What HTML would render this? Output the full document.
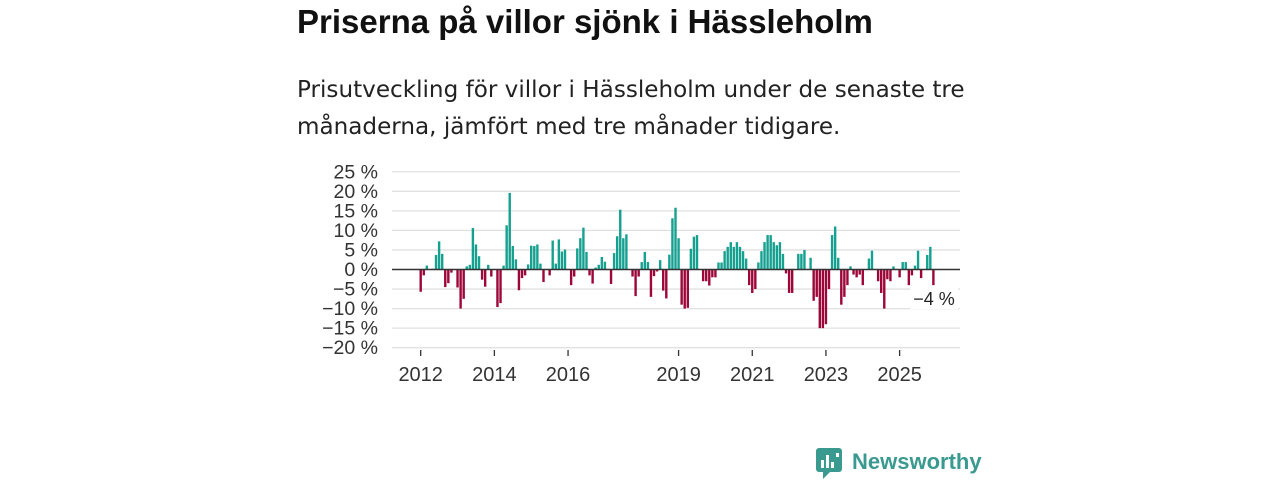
<!DOCTYPE html>
<html><head><meta charset="utf-8"><style>
body{margin:0;width:1280px;height:480px;background:#fff;font-family:"Liberation Sans",sans-serif;overflow:hidden;position:relative}
#title{position:absolute;left:297px;top:3px;font-size:33px;font-weight:bold;color:#111}
#sub{position:absolute;left:297px;top:72px;font-family:"DejaVu Sans",sans-serif;font-size:23.1px;line-height:37px;color:#222;width:720px}
#logo{position:absolute;left:815px;top:446px}
</style></head><body>
<div id="title">Priserna på villor sjönk i Hässleholm</div>
<div id="sub">Prisutveckling för villor i Hässleholm under de senaste tre<br>månaderna, jämfört med tre månader tidigare.</div>
<svg id="chart" width="1280" height="480" style="position:absolute;left:0;top:0"></svg>
<svg id="logo" width="180" height="34">
<rect x="1" y="2" width="26" height="24" rx="3" fill="#3a9a8f"/><path d="M8 26 L8 33 L15 26Z" fill="#3a9a8f"/>
<rect x="6" y="14" width="3" height="8" fill="#fff"/><rect x="11" y="9" width="3" height="13" fill="#fff"/><rect x="16" y="16" width="3" height="6" fill="#fff"/><rect x="21" y="7" width="3" height="4" fill="#fff"/>
<text x="37" y="23" font-size="22" font-weight="bold" fill="#3a9a8f" font-family="Liberation Sans, sans-serif">Newsworthy</text>
</svg>
<script>
const values=[-5.7,-1.5,1,0,0.2,3.7,7.2,4,-4.5,-3.5,-0.8,0,-4.6,-10,-7.5,0.8,1.2,10.6,6.4,3.4,-2.6,-4.4,1.2,-1.8,0,-9.6,-8.6,1,11.3,19.6,6,2.6,-5.3,-2.2,-1.5,1.3,6.1,6,6.4,1.5,-3.2,0,-1.5,7.4,1.5,7.7,4.6,5.1,0,-4,-1.8,5.4,8,10.7,4.5,-1.5,-3.6,0.5,1.2,3.2,2,0,-3.7,4.2,8.5,15.3,8,9,0,-1.8,-6.8,-1.8,1.9,4.5,1.9,-7,-1.7,-0.5,2.4,-5.4,-7.4,3.8,13.1,15.8,8,-9,-10,-9.8,5.3,8.4,8.8,0,-3,-3,-4.1,-2,-2,1.8,1.8,4.7,5.8,7,5.8,7,5.8,4.7,2.8,-4,-6,-5,1.8,4.7,7,8.8,8.8,7,6.2,7,4,-1,-6,-6,0,4,4,5,0,3,-8,-7,-15,-15,-14,-5,8.8,11,3,-9,-7,-4,0.8,-1.3,-2,-1.3,-4,0,2.8,4.8,0,-3,-6,-10,-2.5,-3,0.8,0,-2,1.9,1.9,-4,-1.5,1,4.8,-2.2,0,3.7,5.8,-4];
const startYear=2012;
const yTicks=[25,20,15,10,5,0,-5,-10,-15,-20];
const xTickYears=[2012,2014,2016,2019,2021,2023,2025];
const lastLabel="−4 %";
const svg=document.getElementById('chart');const NS='http://www.w3.org/2000/svg';
const y=v=>269.5-v*3.91;
const x=m=>420.7+m*3.07;
function mk(t,a,p){const e=document.createElementNS(NS,t);for(const k in a)e.setAttribute(k,a[k]);(p||svg).appendChild(e);return e;}
yTicks.forEach(t=>{
 const g=mk('line',{x1:392,x2:960,y1:y(t),y2:y(t),stroke:'#e0e0e0','stroke-width':1.3});
 
 
 const l=mk('text',{x:378,y:y(t)+6.5,'text-anchor':'end','font-size':19.5,fill:'#333'});
 l.textContent=(t<0?'−'+(-t):t)+' %';
 
 
});
values.forEach((v,i)=>{
 if(v===0)return;
 const r=mk('rect',{x:x(i)-1.2,width:2.4,y:Math.min(y(v),y(0)),height:Math.abs(y(v)-y(0)),fill:v>0?'#15a090':'#9c0638'});
 
 
});
const z=mk('line',{x1:392,x2:960,y1:y(0),y2:y(0),stroke:'#333','stroke-width':1.6});


xTickYears.forEach(yr=>{
 const m=(yr-startYear)*12;
 const t=mk('line',{x1:x(m),x2:x(m),y1:350,y2:356,stroke:'#333','stroke-width':1.3});
 
 
 const l=mk('text',{x:x(m),y:381,'text-anchor':'middle','font-size':20,fill:'#333'});
 l.textContent=yr;
 
 
});
const lb=mk('rect',{x:910,y:287,width:48,height:22,fill:'#fff'});


const lt=mk('text',{x:934,y:305,'text-anchor':'middle','font-size':18,fill:'#222'});
lt.textContent=lastLabel;


</script>
</body></html>
